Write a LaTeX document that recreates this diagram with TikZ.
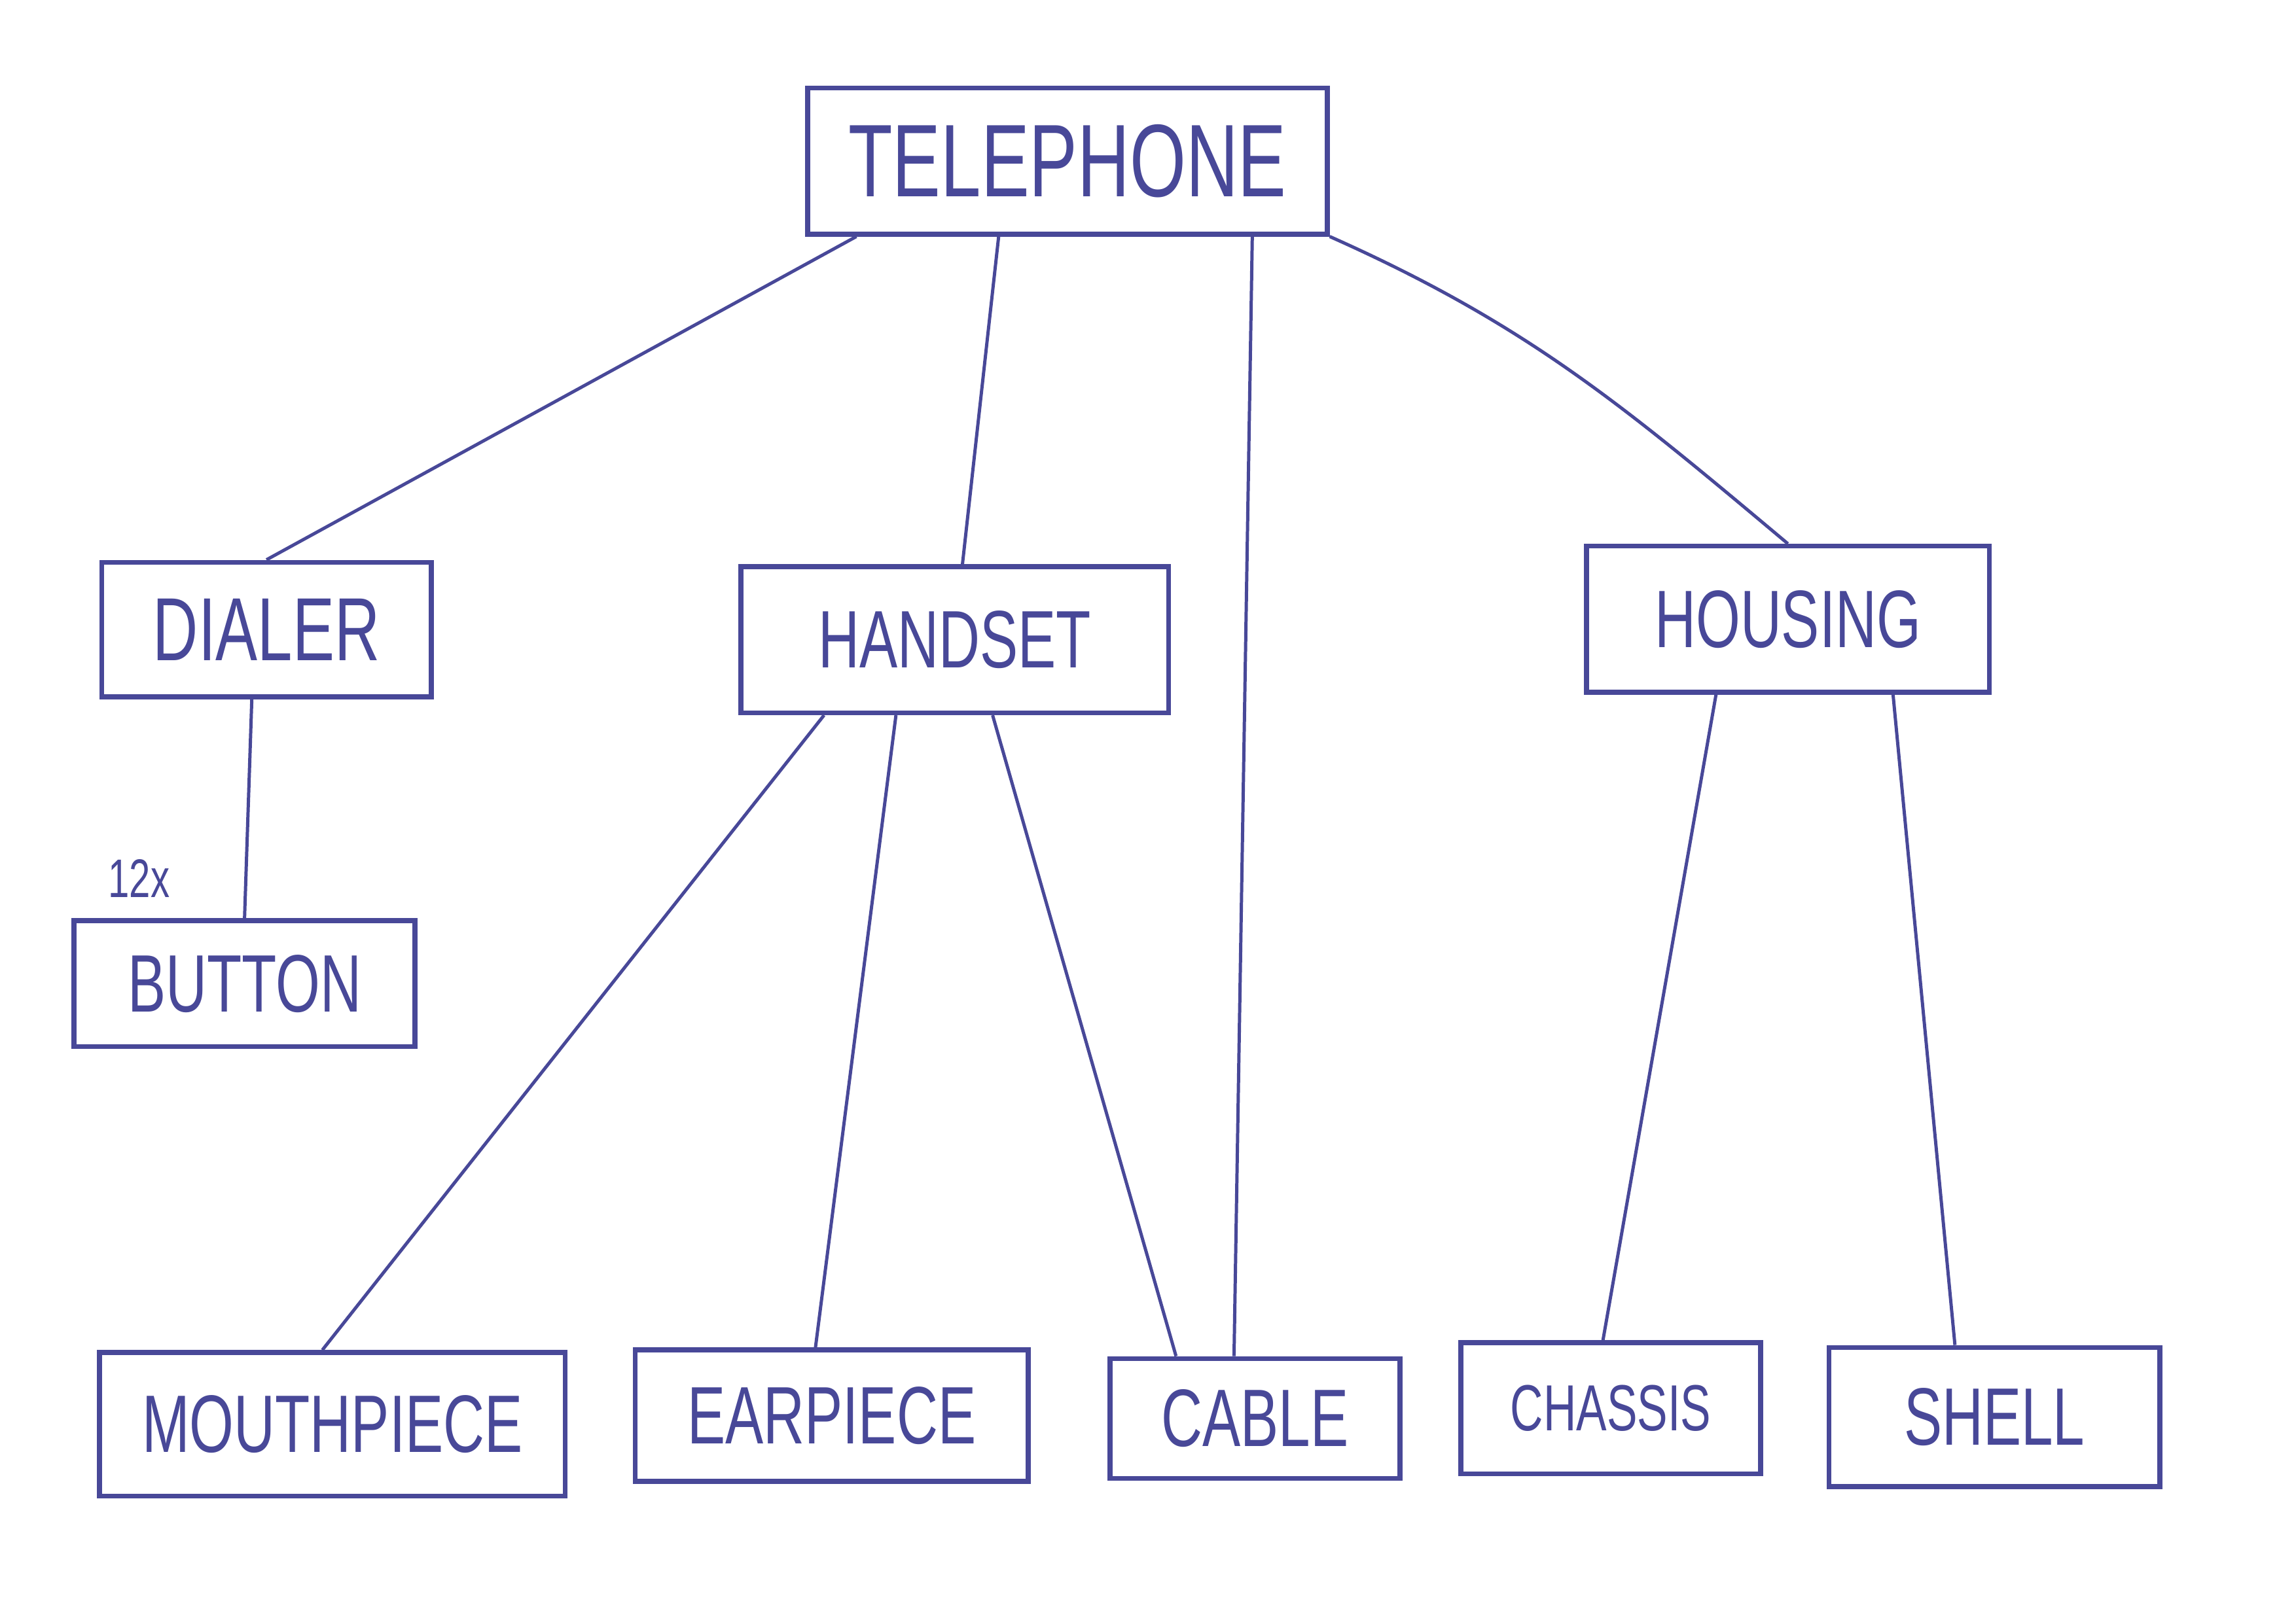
\documentclass[tikz,border=0pt]{standalone}
\usepackage{fontspec}
\newfontfamily\handfont[FakeStretch=0.7]{Liberation Sans}

\begin{document}
\begin{tikzpicture}[x=0.01894cm, y=-0.01894cm,
    box/.style={draw=myink, line width=1.8pt, text=myink, inner sep=0pt,
        font=\handfont\fontsize{30}{36}\selectfont},
    link/.style={draw=myink, line width=1.2pt}]
    \definecolor{myink}{RGB}{72,72,152}

    \useasboundingbox (0,0) rectangle (1568,1109);

    % root
    \node[box, minimum width=6.72cm, minimum height=1.89cm,
        font=\handfont\fontsize{38}{44}\selectfont] (tel) at (729,110) {TELEPHONE};

    % middle level
    \node[box, minimum width=4.26cm, minimum height=1.74cm,
        font=\handfont\fontsize{33}{38}\selectfont] (dia) at (182,430) {DIALER};
    \node[box, minimum width=5.53cm, minimum height=1.89cm] (han) at (652,437) {HANDSET};
    \node[box, minimum width=5.21cm, minimum height=1.89cm] (hou) at (1221,423) {HOUSING};
    \node[box, minimum width=4.41cm, minimum height=1.63cm] (but) at (167,672) {BUTTON};

    % leaves
    \node[box, minimum width=6.02cm, minimum height=1.86cm] (mou) at (227,973) {MOUTHPIECE};
    \node[box, minimum width=5.08cm, minimum height=1.70cm] (ear) at (568,967) {EARPIECE};
    \node[box, minimum width=3.75cm, minimum height=1.55cm] (cab) at (857,969) {CABLE};
    \node[box, minimum width=3.88cm, minimum height=1.70cm,
        font=\handfont\fontsize{24}{30}\selectfont] (cha) at (1100,962) {CHASSIS};
    \node[box, minimum width=4.28cm, minimum height=1.80cm] (she) at (1362,968) {SHELL};

    \node[text=myink, font=\handfont\fontsize{20}{24}\selectfont] (cnt) at (95,600) {12x};

    % connectors
    \draw[link] ([xshift=-2.73cm]tel.south) -- (dia.north);
    \draw[link] ([xshift=-0.89cm]tel.south) -- ([xshift=0.1cm]han.north);
    \draw[link] ([xshift=2.39cm]tel.south) -- ([xshift=-0.27cm]cab.north);
    \draw[link] (tel.south east) to[out=-24, in=140] (hou.north);
    \draw[link] ([xshift=-0.19cm]dia.south) -- (but.north);
    \draw[link] ([xshift=-1.69cm]han.south) -- ([xshift=-0.13cm]mou.north);
    \draw[link] ([xshift=-0.76cm]han.south) -- ([xshift=-0.21cm]ear.north);
    \draw[link] ([xshift=0.49cm]han.south) -- ([xshift=-1.02cm]cab.north);
    \draw[link] ([xshift=-0.93cm]hou.south) -- ([xshift=-0.1cm]cha.north);
    \draw[link] ([xshift=1.36cm]hou.south) -- ([xshift=-0.51cm]she.north);
\end{tikzpicture}
\end{document}
